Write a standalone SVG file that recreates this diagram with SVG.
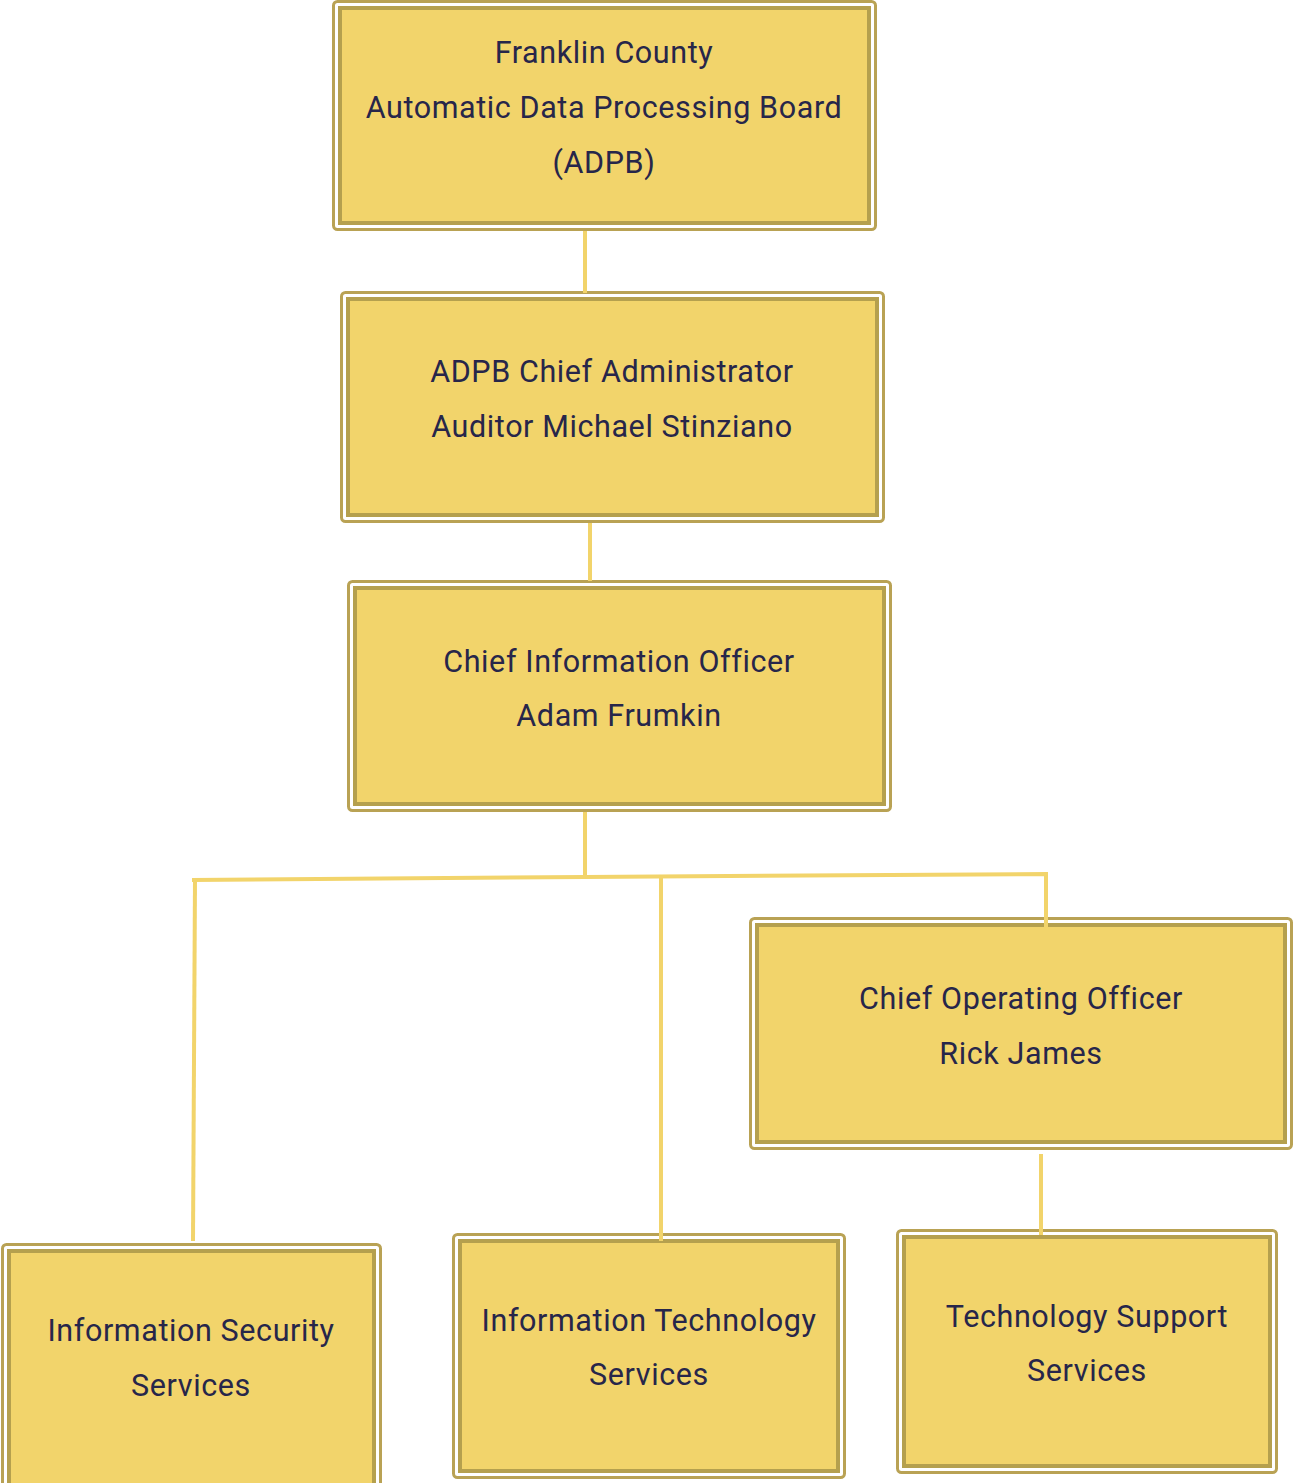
<svg xmlns="http://www.w3.org/2000/svg" width="1293" height="1483" viewBox="0 0 1293 1483">
<style>
.outer{fill:#ffffff;stroke:#b9a254;stroke-width:3}
.inner{fill:#f2d46b;stroke:#b5a04e;stroke-width:4}
.t{font-family:Roboto,"Liberation Sans",sans-serif;font-size:30.5px;letter-spacing:0.6px;fill:#27264a;text-anchor:middle}
.c{stroke:#f2d46b;stroke-width:4;fill:none}
</style>
<rect width="1293" height="1483" fill="#ffffff"/>
<g id="n1">
<rect class="outer" x="333.5" y="1.5" width="542" height="228" rx="4"/>
<rect class="inner" x="340" y="8" width="529" height="215"/>
<text class="t" x="604" y="63">Franklin County</text>
<text class="t" x="604" y="118">Automatic Data Processing Board</text>
<text class="t" x="604" y="173">(ADPB)</text>
</g>
<g id="n2">
<rect class="outer" x="341.5" y="292.5" width="542" height="229" rx="4"/>
<rect class="inner" x="348" y="299" width="529" height="216"/>
<text class="t" x="612" y="382">ADPB Chief Administrator</text>
<text class="t" x="612" y="437">Auditor Michael Stinziano</text>
</g>
<g id="n3">
<rect class="outer" x="348.5" y="581.5" width="542" height="229" rx="4"/>
<rect class="inner" x="355" y="588" width="529" height="216"/>
<text class="t" x="619" y="672">Chief Information Officer</text>
<text class="t" x="619" y="726">Adam Frumkin</text>
</g>
<g id="n4">
<rect class="outer" x="750.5" y="918.5" width="541" height="230" rx="4"/>
<rect class="inner" x="757" y="925" width="528" height="217"/>
<text class="t" x="1021" y="1009">Chief Operating Officer</text>
<text class="t" x="1021" y="1064">Rick James</text>
</g>
<g id="n5">
<rect class="outer" x="2.5" y="1244.5" width="378" height="245" rx="4"/>
<rect class="inner" x="9" y="1251" width="365" height="240"/>
<text class="t" x="191" y="1341">Information Security</text>
<text class="t" x="191" y="1396">Services</text>
</g>
<g id="n6">
<rect class="outer" x="453.5" y="1234.5" width="391" height="243" rx="4"/>
<rect class="inner" x="460" y="1241" width="378" height="230"/>
<text class="t" x="649" y="1331">Information Technology</text>
<text class="t" x="649" y="1385">Services</text>
</g>
<g id="n7">
<rect class="outer" x="897.5" y="1230.5" width="379" height="242" rx="4"/>
<rect class="inner" x="904" y="1237" width="366" height="229"/>
<text class="t" x="1087" y="1327">Technology Support</text>
<text class="t" x="1087" y="1381">Services</text>
</g>
<g id="connectors">
<line class="c" x1="585" y1="231" x2="585" y2="293"/>
<line class="c" x1="590" y1="523" x2="590" y2="581"/>
<line class="c" x1="585" y1="812" x2="585" y2="878"/>
<polyline class="c" points="192,880 585,877 1046,874 1046,928"/>
<line class="c" x1="195" y1="879" x2="193" y2="1241"/>
<line class="c" x1="661" y1="878" x2="661" y2="1241"/>
<line class="c" x1="1041" y1="1154" x2="1041" y2="1235"/>
</g>
</svg>
